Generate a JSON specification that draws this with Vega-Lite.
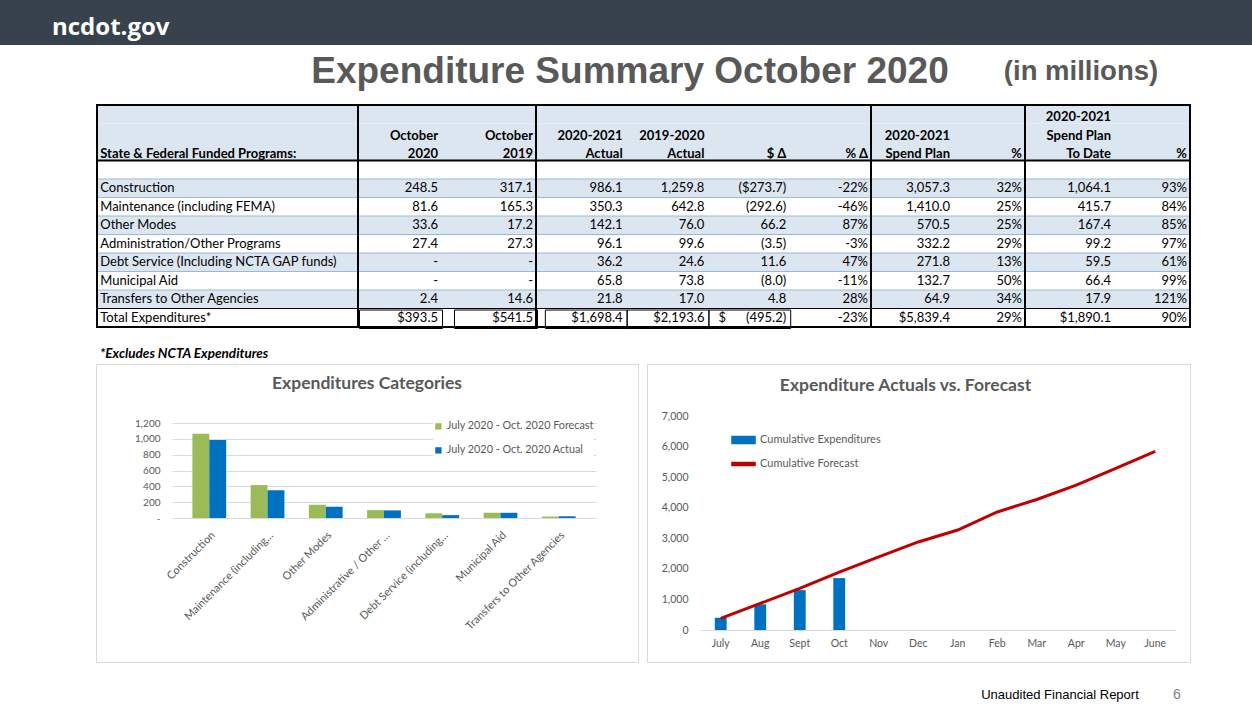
{
"$schema": "https://vega.github.io/schema/vega-lite/v6.json",
"padding": 0,
"background": "white",
"spacing": 0,
"resolve": {"scale": {"color": "independent"}, "legend": {"color": "independent"}},
"config": {"view": {"stroke": null}, "font": "Lato"},
"datasets": {
"table": [
{"row":"Construction","Oct2020":"248.5","Oct2019":"317.1","Act2021":"986.1","Act2020":"1,259.8","dDelta":"($273.7)","pDelta":"-22%","Plan":"3,057.3","PlanPct":"32%","ToDate":"1,064.1","ToDatePct":"93%"},
{"row":"Maintenance (including FEMA)","Oct2020":"81.6","Oct2019":"165.3","Act2021":"350.3","Act2020":"642.8","dDelta":"(292.6)","pDelta":"-46%","Plan":"1,410.0","PlanPct":"25%","ToDate":"415.7","ToDatePct":"84%"},
{"row":"Other Modes","Oct2020":"33.6","Oct2019":"17.2","Act2021":"142.1","Act2020":"76.0","dDelta":"66.2\u00a0\u00a0","pDelta":"87%","Plan":"570.5","PlanPct":"25%","ToDate":"167.4","ToDatePct":"85%"},
{"row":"Administration/Other Programs","Oct2020":"27.4","Oct2019":"27.3","Act2021":"96.1","Act2020":"99.6","dDelta":"(3.5)","pDelta":"-3%","Plan":"332.2","PlanPct":"29%","ToDate":"99.2","ToDatePct":"97%"},
{"row":"Debt Service (Including NCTA GAP funds)","Oct2020":"-\u00a0\u00a0\u00a0\u00a0","Oct2019":"-\u00a0\u00a0\u00a0\u00a0","Act2021":"36.2","Act2020":"24.6","dDelta":"11.6\u00a0\u00a0","pDelta":"47%","Plan":"271.8","PlanPct":"13%","ToDate":"59.5","ToDatePct":"61%"},
{"row":"Municipal Aid","Oct2020":"-\u00a0\u00a0\u00a0\u00a0","Oct2019":"-\u00a0\u00a0\u00a0\u00a0","Act2021":"65.8","Act2020":"73.8","dDelta":"(8.0)","pDelta":"-11%","Plan":"132.7","PlanPct":"50%","ToDate":"66.4","ToDatePct":"99%"},
{"row":"Transfers to Other Agencies","Oct2020":"2.4","Oct2019":"14.6","Act2021":"21.8","Act2020":"17.0","dDelta":"4.8\u00a0\u00a0","pDelta":"28%","Plan":"64.9","PlanPct":"34%","ToDate":"17.9","ToDatePct":"121%"},
{"row":"Total Expenditures*","Oct2020":"$393.5","Oct2019":"$541.5","Act2021":"$1,698.4","Act2020":"$2,193.6","dDelta":"$\u00a0\u00a0\u00a0\u00a0\u00a0\u00a0(495.2)","pDelta":"-23%","Plan":"$5,839.4","PlanPct":"29%","ToDate":"$1,890.1","ToDatePct":"90%"}
],
"headers": [
{"col":"row","row":"h3","text":"State & Federal Funded Programs:"},
{"col":"Oct2020","row":"h2","text":"October"},{"col":"Oct2020","row":"h3","text":"2020"},
{"col":"Oct2019","row":"h2","text":"October"},{"col":"Oct2019","row":"h3","text":"2019"},
{"col":"Act2021","row":"h2","text":"2020-2021"},{"col":"Act2021","row":"h3","text":"Actual"},
{"col":"Act2020","row":"h2","text":"2019-2020"},{"col":"Act2020","row":"h3","text":"Actual"},
{"col":"dDelta","row":"h3","text":"$ Δ"},
{"col":"pDelta","row":"h3","text":"% Δ"},
{"col":"Plan","row":"h2","text":"2020-2021"},{"col":"Plan","row":"h3","text":"Spend Plan"},
{"col":"PlanPct","row":"h3","text":"%"},
{"col":"ToDate","row":"h1","text":"2020-2021"},{"col":"ToDate","row":"h2","text":"Spend Plan"},{"col":"ToDate","row":"h3","text":"To Date"},
{"col":"ToDatePct","row":"h3","text":"%"}
],
"categories": [
{"cat":"Construction","series":"July 2020 - Oct. 2020 Forecast","value":1064.1},
{"cat":"Construction","series":"July 2020 - Oct. 2020 Actual","value":986.1},
{"cat":"Maintenance (including…","series":"July 2020 - Oct. 2020 Forecast","value":415.7},
{"cat":"Maintenance (including…","series":"July 2020 - Oct. 2020 Actual","value":350.3},
{"cat":"Other Modes","series":"July 2020 - Oct. 2020 Forecast","value":167.4},
{"cat":"Other Modes","series":"July 2020 - Oct. 2020 Actual","value":142.1},
{"cat":"Administrative / Other …","series":"July 2020 - Oct. 2020 Forecast","value":99.2},
{"cat":"Administrative / Other …","series":"July 2020 - Oct. 2020 Actual","value":96.1},
{"cat":"Debt Service (including…","series":"July 2020 - Oct. 2020 Forecast","value":59.5},
{"cat":"Debt Service (including…","series":"July 2020 - Oct. 2020 Actual","value":36.2},
{"cat":"Municipal Aid","series":"July 2020 - Oct. 2020 Forecast","value":66.4},
{"cat":"Municipal Aid","series":"July 2020 - Oct. 2020 Actual","value":65.8},
{"cat":"Transfers to Other Agencies","series":"July 2020 - Oct. 2020 Forecast","value":17.9},
{"cat":"Transfers to Other Agencies","series":"July 2020 - Oct. 2020 Actual","value":21.8}
],
"monthly": [
{"month":"July","expend":400,"forecast":380},
{"month":"Aug","expend":840,"forecast":870},
{"month":"Sept","expend":1304.9,"forecast":1360},
{"month":"Oct","expend":1698.4,"forecast":1890.1},
{"month":"Nov","expend":null,"forecast":2390},
{"month":"Dec","expend":null,"forecast":2880},
{"month":"Jan","expend":null,"forecast":3270},
{"month":"Feb","expend":null,"forecast":3860},
{"month":"Mar","expend":null,"forecast":4270},
{"month":"Apr","expend":null,"forecast":4740},
{"month":"May","expend":null,"forecast":5290},
{"month":"June","expend":null,"forecast":5839.4}
]
},
"vconcat": [
{
"width": 1252, "height": 45,
"layer": [
{"data": {"values": [{}]}, "mark": {"type": "rect", "color": "#37424d"}, "encoding": {}},
{"data": {"values": [{"site": "ncdot.gov"}]}, "mark": {"type": "text", "align": "left", "font": "Open Sans", "fontSize": 24, "fontWeight": "bold", "color": "#ffffff", "dy": 5}, "encoding": {"x": {"field": "site", "type": "nominal", "scale": {"type": "point", "domain": ["ncdot.gov"], "range": [52, 180], "padding": 0, "align": 0}, "axis": null}, "text": {"field": "site"}}}
]
},
{
"width": 1252, "height": 59,
"data": {"values": [{"part": "main", "label": "Expenditure Summary October 2020"}, {"part": "units", "label": "(in millions)"}]},
"layer": [
{"transform": [{"filter": "datum.part === 'main'"}], "mark": {"type": "text", "font": "Liberation Sans", "fontSize": 37, "fontWeight": "bold", "color": "#595959", "dy": -2.5}, "encoding": {"x": {"field": "part", "type": "nominal", "scale": {"type": "point", "domain": ["main", "units"], "range": [630, 1081], "padding": 0}, "axis": null}, "text": {"field": "label"}}},
{"transform": [{"filter": "datum.part === 'units'"}], "mark": {"type": "text", "font": "Liberation Sans", "fontSize": 27.5, "fontWeight": "bold", "color": "#595959", "dy": -2.5}, "encoding": {"x": {"field": "part", "type": "nominal", "scale": {"type": "point", "domain": ["main", "units"], "range": [630, 1081], "padding": 0}, "axis": null}, "text": {"field": "label"}}}
]
},
{
"spacing": 0,
"bounds": "flush",
"hconcat": [
{"width": 97, "height": 222, "data": {"values": [{}]}, "mark": {"type": "rect", "opacity": 0}, "encoding": {}},
{"width": 261, "height": 222, "layer": [
{"data": {"values": [{"row": "h1"}, {"row": "h2"}, {"row": "h3"}]}, "mark": {"type": "rect", "color": "#dce6f1"}, "encoding": {"y": {"field": "row", "type": "nominal", "scale": {"type": "band", "domain": ["h1","h2","h3","blank","Construction","Maintenance (including FEMA)","Other Modes","Administration/Other Programs","Debt Service (Including NCTA GAP funds)","Municipal Aid","Transfers to Other Agencies","Total Expenditures*"], "paddingInner": 0, "paddingOuter": 0}, "axis": null}}},
{"data": {"name": "table"}, "transform": [{"filter": {"field": "row", "oneOf": ["Construction","Other Modes","Debt Service (Including NCTA GAP funds)","Transfers to Other Agencies"]}}], "mark": {"type": "rect", "color": "#dce6f1"}, "encoding": {"y": {"field": "row", "type": "nominal", "scale": {"type": "band", "domain": ["h1","h2","h3","blank","Construction","Maintenance (including FEMA)","Other Modes","Administration/Other Programs","Debt Service (Including NCTA GAP funds)","Municipal Aid","Transfers to Other Agencies","Total Expenditures*"], "paddingInner": 0, "paddingOuter": 0}, "axis": null}}},
{"data": {"name": "table"}, "mark": {"type": "rule", "strokeWidth": 1}, "encoding": {"y": {"field": "row", "type": "nominal", "bandPosition": 0, "scale": {"type": "band", "domain": ["h1","h2","h3","blank","Construction","Maintenance (including FEMA)","Other Modes","Administration/Other Programs","Debt Service (Including NCTA GAP funds)","Municipal Aid","Transfers to Other Agencies","Total Expenditures*"], "paddingInner": 0, "paddingOuter": 0}, "axis": null}, "color": {"condition": {"test": "datum.row === 'Total Expenditures*'", "value": "#000000"}, "value": "#9bb7d9"}}},
{"data": {"values": [{"row": "blank"}]}, "mark": {"type": "rule", "strokeWidth": 2, "color": "#000000"}, "encoding": {"y": {"field": "row", "type": "nominal", "bandPosition": 0, "scale": {"type": "band", "domain": ["h1","h2","h3","blank","Construction","Maintenance (including FEMA)","Other Modes","Administration/Other Programs","Debt Service (Including NCTA GAP funds)","Municipal Aid","Transfers to Other Agencies","Total Expenditures*"], "paddingInner": 0, "paddingOuter": 0}, "axis": null}}},
{"data": {"name": "headers"}, "transform": [{"filter": {"field": "col", "oneOf": ["row"]}}], "mark": {"type": "text", "align": "left", "dx": 3, "dy": 3, "fontSize": 13, "fontWeight": "bold", "color": "#000000"}, "encoding": {"x": {"field": "col", "type": "nominal", "bandPosition": 0.001, "scale": {"type": "band", "domain": ["row"], "paddingInner": 0, "paddingOuter": 0}, "axis": null}, "y": {"field": "row", "type": "nominal", "scale": {"type": "band", "domain": ["h1","h2","h3","blank","Construction","Maintenance (including FEMA)","Other Modes","Administration/Other Programs","Debt Service (Including NCTA GAP funds)","Municipal Aid","Transfers to Other Agencies","Total Expenditures*"], "paddingInner": 0, "paddingOuter": 0}, "axis": null}, "text": {"field": "text"}}},
{"data": {"name": "table"}, "transform": [{"fold": ["row"], "as": ["col", "text"]}], "mark": {"type": "text", "align": "left", "dx": 3, "fontSize": 13, "color": "#000000"}, "encoding": {"x": {"field": "col", "type": "nominal", "bandPosition": 0.001, "scale": {"type": "band", "domain": ["row"], "paddingInner": 0, "paddingOuter": 0}, "axis": null}, "y": {"field": "row", "type": "nominal", "scale": {"type": "band", "domain": ["h1","h2","h3","blank","Construction","Maintenance (including FEMA)","Other Modes","Administration/Other Programs","Debt Service (Including NCTA GAP funds)","Municipal Aid","Transfers to Other Agencies","Total Expenditures*"], "paddingInner": 0, "paddingOuter": 0}, "axis": null}, "text": {"field": "text"}}},
{"data": {"values": [{}]}, "mark": {"type": "rect", "fill": "transparent", "stroke": "#000000", "strokeWidth": 2}, "encoding": {}}
]},
{"width": 178, "height": 222, "layer": [
{"data": {"values": [{"row": "h1"}, {"row": "h2"}, {"row": "h3"}]}, "mark": {"type": "rect", "color": "#dce6f1"}, "encoding": {"y": {"field": "row", "type": "nominal", "scale": {"type": "band", "domain": ["h1","h2","h3","blank","Construction","Maintenance (including FEMA)","Other Modes","Administration/Other Programs","Debt Service (Including NCTA GAP funds)","Municipal Aid","Transfers to Other Agencies","Total Expenditures*"], "paddingInner": 0, "paddingOuter": 0}, "axis": null}}},
{"data": {"name": "table"}, "transform": [{"filter": {"field": "row", "oneOf": ["Construction","Other Modes","Debt Service (Including NCTA GAP funds)","Transfers to Other Agencies"]}}], "mark": {"type": "rect", "color": "#dce6f1"}, "encoding": {"y": {"field": "row", "type": "nominal", "scale": {"type": "band", "domain": ["h1","h2","h3","blank","Construction","Maintenance (including FEMA)","Other Modes","Administration/Other Programs","Debt Service (Including NCTA GAP funds)","Municipal Aid","Transfers to Other Agencies","Total Expenditures*"], "paddingInner": 0, "paddingOuter": 0}, "axis": null}}},
{"data": {"name": "table"}, "mark": {"type": "rule", "strokeWidth": 1}, "encoding": {"y": {"field": "row", "type": "nominal", "bandPosition": 0, "scale": {"type": "band", "domain": ["h1","h2","h3","blank","Construction","Maintenance (including FEMA)","Other Modes","Administration/Other Programs","Debt Service (Including NCTA GAP funds)","Municipal Aid","Transfers to Other Agencies","Total Expenditures*"], "paddingInner": 0, "paddingOuter": 0}, "axis": null}, "color": {"condition": {"test": "datum.row === 'Total Expenditures*'", "value": "#000000"}, "value": "#9bb7d9"}}},
{"data": {"values": [{"row": "blank"}]}, "mark": {"type": "rule", "strokeWidth": 2, "color": "#000000"}, "encoding": {"y": {"field": "row", "type": "nominal", "bandPosition": 0, "scale": {"type": "band", "domain": ["h1","h2","h3","blank","Construction","Maintenance (including FEMA)","Other Modes","Administration/Other Programs","Debt Service (Including NCTA GAP funds)","Municipal Aid","Transfers to Other Agencies","Total Expenditures*"], "paddingInner": 0, "paddingOuter": 0}, "axis": null}}},
{"data": {"name": "table"}, "transform": [{"filter": "datum.row === 'Total Expenditures*'"}, {"fold": ["Oct2020", "Oct2019"], "as": ["col", "text"]}], "mark": {"type": "rect", "fill": "transparent", "stroke": "#000000", "strokeWidth": 1, "xOffset": 1.5, "x2Offset": -1.5, "yOffset": 1.5, "y2Offset": -1.5}, "encoding": {"x": {"field": "col", "type": "nominal", "scale": {"type": "band", "domain": ["Oct2020", "Oct2019"], "paddingInner": 0.126, "paddingOuter": 0}, "axis": null}, "y": {"field": "row", "type": "nominal", "scale": {"type": "band", "domain": ["h1","h2","h3","blank","Construction","Maintenance (including FEMA)","Other Modes","Administration/Other Programs","Debt Service (Including NCTA GAP funds)","Municipal Aid","Transfers to Other Agencies","Total Expenditures*"], "paddingInner": 0, "paddingOuter": 0}, "axis": null}}},
{"data": {"name": "headers"}, "transform": [{"filter": {"field": "col", "oneOf": ["Oct2020", "Oct2019"]}}], "mark": {"type": "text", "align": "right", "dx": -3, "dy": 3, "fontSize": 13, "fontWeight": "bold", "color": "#000000"}, "encoding": {"x": {"field": "col", "type": "nominal", "bandPosition": 1, "scale": {"type": "band", "domain": ["Oct2020", "Oct2019"], "paddingInner": 0.126, "paddingOuter": 0}, "axis": null}, "y": {"field": "row", "type": "nominal", "scale": {"type": "band", "domain": ["h1","h2","h3","blank","Construction","Maintenance (including FEMA)","Other Modes","Administration/Other Programs","Debt Service (Including NCTA GAP funds)","Municipal Aid","Transfers to Other Agencies","Total Expenditures*"], "paddingInner": 0, "paddingOuter": 0}, "axis": null}, "text": {"field": "text"}}},
{"data": {"name": "table"}, "transform": [{"fold": ["Oct2020", "Oct2019"], "as": ["col", "text"]}], "mark": {"type": "text", "align": "right", "dx": -3, "fontSize": 13, "color": "#000000"}, "encoding": {"x": {"field": "col", "type": "nominal", "bandPosition": 1, "scale": {"type": "band", "domain": ["Oct2020", "Oct2019"], "paddingInner": 0.126, "paddingOuter": 0}, "axis": null}, "y": {"field": "row", "type": "nominal", "scale": {"type": "band", "domain": ["h1","h2","h3","blank","Construction","Maintenance (including FEMA)","Other Modes","Administration/Other Programs","Debt Service (Including NCTA GAP funds)","Municipal Aid","Transfers to Other Agencies","Total Expenditures*"], "paddingInner": 0, "paddingOuter": 0}, "axis": null}, "text": {"field": "text"}}},
{"data": {"values": [{}]}, "mark": {"type": "rect", "fill": "transparent", "stroke": "#000000", "strokeWidth": 2}, "encoding": {}}
]},
{"width": 335, "height": 222, "layer": [
{"data": {"values": [{"row": "h1"}, {"row": "h2"}, {"row": "h3"}]}, "mark": {"type": "rect", "color": "#dce6f1"}, "encoding": {"y": {"field": "row", "type": "nominal", "scale": {"type": "band", "domain": ["h1","h2","h3","blank","Construction","Maintenance (including FEMA)","Other Modes","Administration/Other Programs","Debt Service (Including NCTA GAP funds)","Municipal Aid","Transfers to Other Agencies","Total Expenditures*"], "paddingInner": 0, "paddingOuter": 0}, "axis": null}}},
{"data": {"name": "table"}, "transform": [{"filter": {"field": "row", "oneOf": ["Construction","Other Modes","Debt Service (Including NCTA GAP funds)","Transfers to Other Agencies"]}}], "mark": {"type": "rect", "color": "#dce6f1"}, "encoding": {"y": {"field": "row", "type": "nominal", "scale": {"type": "band", "domain": ["h1","h2","h3","blank","Construction","Maintenance (including FEMA)","Other Modes","Administration/Other Programs","Debt Service (Including NCTA GAP funds)","Municipal Aid","Transfers to Other Agencies","Total Expenditures*"], "paddingInner": 0, "paddingOuter": 0}, "axis": null}}},
{"data": {"name": "table"}, "mark": {"type": "rule", "strokeWidth": 1}, "encoding": {"y": {"field": "row", "type": "nominal", "bandPosition": 0, "scale": {"type": "band", "domain": ["h1","h2","h3","blank","Construction","Maintenance (including FEMA)","Other Modes","Administration/Other Programs","Debt Service (Including NCTA GAP funds)","Municipal Aid","Transfers to Other Agencies","Total Expenditures*"], "paddingInner": 0, "paddingOuter": 0}, "axis": null}, "color": {"condition": {"test": "datum.row === 'Total Expenditures*'", "value": "#000000"}, "value": "#9bb7d9"}}},
{"data": {"values": [{"row": "blank"}]}, "mark": {"type": "rule", "strokeWidth": 2, "color": "#000000"}, "encoding": {"y": {"field": "row", "type": "nominal", "bandPosition": 0, "scale": {"type": "band", "domain": ["h1","h2","h3","blank","Construction","Maintenance (including FEMA)","Other Modes","Administration/Other Programs","Debt Service (Including NCTA GAP funds)","Municipal Aid","Transfers to Other Agencies","Total Expenditures*"], "paddingInner": 0, "paddingOuter": 0}, "axis": null}}},
{"data": {"name": "table"}, "transform": [{"filter": "datum.row === 'Total Expenditures*'"}, {"fold": ["Act2021", "Act2020", "dDelta"], "as": ["col", "text"]}], "mark": {"type": "rect", "fill": "transparent", "stroke": "#000000", "strokeWidth": 1, "xOffset": 1.5, "x2Offset": -1.5, "yOffset": 1.5, "y2Offset": -1.5}, "encoding": {"x": {"field": "col", "type": "nominal", "scale": {"type": "band", "domain": ["Act2021", "Act2020", "dDelta", "pDelta"], "paddingInner": 0, "paddingOuter": 0.048, "align": 1}, "axis": null}, "y": {"field": "row", "type": "nominal", "scale": {"type": "band", "domain": ["h1","h2","h3","blank","Construction","Maintenance (including FEMA)","Other Modes","Administration/Other Programs","Debt Service (Including NCTA GAP funds)","Municipal Aid","Transfers to Other Agencies","Total Expenditures*"], "paddingInner": 0, "paddingOuter": 0}, "axis": null}}},
{"data": {"name": "headers"}, "transform": [{"filter": {"field": "col", "oneOf": ["Act2021", "Act2020", "dDelta", "pDelta"]}}], "mark": {"type": "text", "align": "right", "dx": -3, "dy": 3, "fontSize": 13, "fontWeight": "bold", "color": "#000000"}, "encoding": {"x": {"field": "col", "type": "nominal", "bandPosition": 1, "scale": {"type": "band", "domain": ["Act2021", "Act2020", "dDelta", "pDelta"], "paddingInner": 0, "paddingOuter": 0.048, "align": 1}, "axis": null}, "y": {"field": "row", "type": "nominal", "scale": {"type": "band", "domain": ["h1","h2","h3","blank","Construction","Maintenance (including FEMA)","Other Modes","Administration/Other Programs","Debt Service (Including NCTA GAP funds)","Municipal Aid","Transfers to Other Agencies","Total Expenditures*"], "paddingInner": 0, "paddingOuter": 0}, "axis": null}, "text": {"field": "text"}}},
{"data": {"name": "table"}, "transform": [{"fold": ["Act2021", "Act2020", "dDelta", "pDelta"], "as": ["col", "text"]}], "mark": {"type": "text", "align": "right", "dx": -3, "fontSize": 13, "color": "#000000"}, "encoding": {"x": {"field": "col", "type": "nominal", "bandPosition": 1, "scale": {"type": "band", "domain": ["Act2021", "Act2020", "dDelta", "pDelta"], "paddingInner": 0, "paddingOuter": 0.048, "align": 1}, "axis": null}, "y": {"field": "row", "type": "nominal", "scale": {"type": "band", "domain": ["h1","h2","h3","blank","Construction","Maintenance (including FEMA)","Other Modes","Administration/Other Programs","Debt Service (Including NCTA GAP funds)","Municipal Aid","Transfers to Other Agencies","Total Expenditures*"], "paddingInner": 0, "paddingOuter": 0}, "axis": null}, "text": {"field": "text"}}},
{"data": {"values": [{}]}, "mark": {"type": "rect", "fill": "transparent", "stroke": "#000000", "strokeWidth": 2}, "encoding": {}}
]},
{"width": 154, "height": 222, "layer": [
{"data": {"values": [{"row": "h1"}, {"row": "h2"}, {"row": "h3"}]}, "mark": {"type": "rect", "color": "#dce6f1"}, "encoding": {"y": {"field": "row", "type": "nominal", "scale": {"type": "band", "domain": ["h1","h2","h3","blank","Construction","Maintenance (including FEMA)","Other Modes","Administration/Other Programs","Debt Service (Including NCTA GAP funds)","Municipal Aid","Transfers to Other Agencies","Total Expenditures*"], "paddingInner": 0, "paddingOuter": 0}, "axis": null}}},
{"data": {"name": "table"}, "transform": [{"filter": {"field": "row", "oneOf": ["Construction","Other Modes","Debt Service (Including NCTA GAP funds)","Transfers to Other Agencies"]}}], "mark": {"type": "rect", "color": "#dce6f1"}, "encoding": {"y": {"field": "row", "type": "nominal", "scale": {"type": "band", "domain": ["h1","h2","h3","blank","Construction","Maintenance (including FEMA)","Other Modes","Administration/Other Programs","Debt Service (Including NCTA GAP funds)","Municipal Aid","Transfers to Other Agencies","Total Expenditures*"], "paddingInner": 0, "paddingOuter": 0}, "axis": null}}},
{"data": {"name": "table"}, "mark": {"type": "rule", "strokeWidth": 1}, "encoding": {"y": {"field": "row", "type": "nominal", "bandPosition": 0, "scale": {"type": "band", "domain": ["h1","h2","h3","blank","Construction","Maintenance (including FEMA)","Other Modes","Administration/Other Programs","Debt Service (Including NCTA GAP funds)","Municipal Aid","Transfers to Other Agencies","Total Expenditures*"], "paddingInner": 0, "paddingOuter": 0}, "axis": null}, "color": {"condition": {"test": "datum.row === 'Total Expenditures*'", "value": "#000000"}, "value": "#9bb7d9"}}},
{"data": {"values": [{"row": "blank"}]}, "mark": {"type": "rule", "strokeWidth": 2, "color": "#000000"}, "encoding": {"y": {"field": "row", "type": "nominal", "bandPosition": 0, "scale": {"type": "band", "domain": ["h1","h2","h3","blank","Construction","Maintenance (including FEMA)","Other Modes","Administration/Other Programs","Debt Service (Including NCTA GAP funds)","Municipal Aid","Transfers to Other Agencies","Total Expenditures*"], "paddingInner": 0, "paddingOuter": 0}, "axis": null}}},
{"data": {"name": "headers"}, "transform": [{"filter": {"field": "col", "oneOf": ["Plan", "PlanPct"]}}], "mark": {"type": "text", "align": "right", "dx": -3, "dy": 3, "fontSize": 13, "fontWeight": "bold", "color": "#000000"}, "encoding": {"x": {"field": "col", "type": "nominal", "bandPosition": 1, "scale": {"type": "band", "domain": ["Plan", "PlanPct"], "paddingInner": 0, "paddingOuter": 0.069, "align": 1}, "axis": null}, "y": {"field": "row", "type": "nominal", "scale": {"type": "band", "domain": ["h1","h2","h3","blank","Construction","Maintenance (including FEMA)","Other Modes","Administration/Other Programs","Debt Service (Including NCTA GAP funds)","Municipal Aid","Transfers to Other Agencies","Total Expenditures*"], "paddingInner": 0, "paddingOuter": 0}, "axis": null}, "text": {"field": "text"}}},
{"data": {"name": "table"}, "transform": [{"fold": ["Plan", "PlanPct"], "as": ["col", "text"]}], "mark": {"type": "text", "align": "right", "dx": -3, "fontSize": 13, "color": "#000000"}, "encoding": {"x": {"field": "col", "type": "nominal", "bandPosition": 1, "scale": {"type": "band", "domain": ["Plan", "PlanPct"], "paddingInner": 0, "paddingOuter": 0.069, "align": 1}, "axis": null}, "y": {"field": "row", "type": "nominal", "scale": {"type": "band", "domain": ["h1","h2","h3","blank","Construction","Maintenance (including FEMA)","Other Modes","Administration/Other Programs","Debt Service (Including NCTA GAP funds)","Municipal Aid","Transfers to Other Agencies","Total Expenditures*"], "paddingInner": 0, "paddingOuter": 0}, "axis": null}, "text": {"field": "text"}}},
{"data": {"values": [{}]}, "mark": {"type": "rect", "fill": "transparent", "stroke": "#000000", "strokeWidth": 2}, "encoding": {}}
]},
{"width": 165, "height": 222, "layer": [
{"data": {"values": [{"row": "h1"}, {"row": "h2"}, {"row": "h3"}]}, "mark": {"type": "rect", "color": "#dce6f1"}, "encoding": {"y": {"field": "row", "type": "nominal", "scale": {"type": "band", "domain": ["h1","h2","h3","blank","Construction","Maintenance (including FEMA)","Other Modes","Administration/Other Programs","Debt Service (Including NCTA GAP funds)","Municipal Aid","Transfers to Other Agencies","Total Expenditures*"], "paddingInner": 0, "paddingOuter": 0}, "axis": null}}},
{"data": {"name": "table"}, "transform": [{"filter": {"field": "row", "oneOf": ["Construction","Other Modes","Debt Service (Including NCTA GAP funds)","Transfers to Other Agencies"]}}], "mark": {"type": "rect", "color": "#dce6f1"}, "encoding": {"y": {"field": "row", "type": "nominal", "scale": {"type": "band", "domain": ["h1","h2","h3","blank","Construction","Maintenance (including FEMA)","Other Modes","Administration/Other Programs","Debt Service (Including NCTA GAP funds)","Municipal Aid","Transfers to Other Agencies","Total Expenditures*"], "paddingInner": 0, "paddingOuter": 0}, "axis": null}}},
{"data": {"name": "table"}, "mark": {"type": "rule", "strokeWidth": 1}, "encoding": {"y": {"field": "row", "type": "nominal", "bandPosition": 0, "scale": {"type": "band", "domain": ["h1","h2","h3","blank","Construction","Maintenance (including FEMA)","Other Modes","Administration/Other Programs","Debt Service (Including NCTA GAP funds)","Municipal Aid","Transfers to Other Agencies","Total Expenditures*"], "paddingInner": 0, "paddingOuter": 0}, "axis": null}, "color": {"condition": {"test": "datum.row === 'Total Expenditures*'", "value": "#000000"}, "value": "#9bb7d9"}}},
{"data": {"values": [{"row": "blank"}]}, "mark": {"type": "rule", "strokeWidth": 2, "color": "#000000"}, "encoding": {"y": {"field": "row", "type": "nominal", "bandPosition": 0, "scale": {"type": "band", "domain": ["h1","h2","h3","blank","Construction","Maintenance (including FEMA)","Other Modes","Administration/Other Programs","Debt Service (Including NCTA GAP funds)","Municipal Aid","Transfers to Other Agencies","Total Expenditures*"], "paddingInner": 0, "paddingOuter": 0}, "axis": null}}},
{"data": {"name": "headers"}, "transform": [{"filter": {"field": "col", "oneOf": ["ToDate", "ToDatePct"]}}], "mark": {"type": "text", "align": "right", "dx": -3, "dy": 3, "fontSize": 13, "fontWeight": "bold", "color": "#000000"}, "encoding": {"x": {"field": "col", "type": "nominal", "bandPosition": 1, "scale": {"type": "band", "domain": ["ToDate", "ToDatePct"], "paddingInner": 0, "paddingOuter": 0.0855, "align": 1}, "axis": null}, "y": {"field": "row", "type": "nominal", "scale": {"type": "band", "domain": ["h1","h2","h3","blank","Construction","Maintenance (including FEMA)","Other Modes","Administration/Other Programs","Debt Service (Including NCTA GAP funds)","Municipal Aid","Transfers to Other Agencies","Total Expenditures*"], "paddingInner": 0, "paddingOuter": 0}, "axis": null}, "text": {"field": "text"}}},
{"data": {"name": "table"}, "transform": [{"fold": ["ToDate", "ToDatePct"], "as": ["col", "text"]}], "mark": {"type": "text", "align": "right", "dx": -3, "fontSize": 13, "color": "#000000"}, "encoding": {"x": {"field": "col", "type": "nominal", "bandPosition": 1, "scale": {"type": "band", "domain": ["ToDate", "ToDatePct"], "paddingInner": 0, "paddingOuter": 0.0855, "align": 1}, "axis": null}, "y": {"field": "row", "type": "nominal", "scale": {"type": "band", "domain": ["h1","h2","h3","blank","Construction","Maintenance (including FEMA)","Other Modes","Administration/Other Programs","Debt Service (Including NCTA GAP funds)","Municipal Aid","Transfers to Other Agencies","Total Expenditures*"], "paddingInner": 0, "paddingOuter": 0}, "axis": null}, "text": {"field": "text"}}},
{"data": {"values": [{}]}, "mark": {"type": "rect", "fill": "transparent", "stroke": "#000000", "strokeWidth": 2}, "encoding": {}}
]}
]
},
{
"width": 1252, "height": 34,
"data": {"values": [{"note": "*Excludes NCTA Expenditures"}]},
"mark": {"type": "text", "align": "left", "fontSize": 13.5, "fontStyle": "italic", "fontWeight": "bold", "color": "#000000", "dy": 8},
"encoding": {"x": {"field": "note", "type": "nominal", "scale": {"type": "point", "domain": ["*Excludes NCTA Expenditures"], "range": [100, 300], "padding": 0, "align": 0}, "axis": null}, "text": {"field": "note"}}
},
{
"spacing": 9,
"bounds": "flush",
"resolve": {"scale": {"color": "independent"}, "legend": {"color": "independent"}},
"hconcat": [
{"width": 87, "height": 298, "data": {"values": [{}]}, "mark": {"type": "rect", "opacity": 0}, "encoding": {}},
{
"width": 542, "height": 298,
"view": {"stroke": "#d9d9d9"},
"title": {"text": "Expenditures Categories", "fontSize": 17.5, "fontWeight": "bold", "color": "#595959", "offset": -37.5, "baseline": "middle", "anchor": "middle"},
"data": {"name": "categories"},
"mark": {"type": "bar"},
"encoding": {
"x": {"field": "cat", "type": "nominal", "sort": null, "scale": {"range": [76, 500], "paddingInner": 0.42, "paddingOuter": 0.35}, "axis": {"title": null, "labelAngle": -45, "offset": -136, "domain": false, "ticks": false, "labelPadding": 3, "labelColor": "#595959", "labelFontSize": 11, "labelLimit": 200}},
"xOffset": {"field": "series", "type": "nominal", "sort": null, "scale": {"domain": ["July 2020 - Oct. 2020 Forecast", "July 2020 - Oct. 2020 Actual"]}},
"y": {"field": "value", "type": "quantitative", "scale": {"domain": [0, 1200], "nice": false, "range": [154, 59]}, "axis": {"title": null, "values": [0, 200, 400, 600, 800, 1000, 1200], "grid": true, "gridColor": "#d9d9d9", "domain": false, "ticks": false, "offset": -64, "labelPadding": 0, "labelColor": "#595959", "labelFontSize": 10, "labelExpr": "datum.value === 0 ? '-' : format(datum.value, ',')"}},
"color": {"field": "series", "type": "nominal", "scale": {"domain": ["July 2020 - Oct. 2020 Forecast", "July 2020 - Oct. 2020 Actual"], "range": ["#9bbb59", "#0070c0"]}, "legend": {"orient": "none", "legendX": 337, "legendY": 57, "title": null, "labelColor": "#595959", "labelFontSize": 10.8, "symbolType": "square", "symbolSize": 40, "rowPadding": 12, "fillColor": "white", "padding": 0, "labelOffset": 3}}
}
},
{
"width": 543, "height": 298,
"view": {"stroke": "#d9d9d9"},
"title": {"text": "Expenditure Actuals vs. Forecast", "fontSize": 17.5, "fontWeight": "bold", "color": "#595959", "offset": -39.5, "baseline": "middle", "anchor": "middle", "dx": -13},
"data": {"name": "monthly"},
"layer": [
{"transform": [{"filter": "isValid(datum.expend)"}], "mark": {"type": "bar"},
"encoding": {
"x": {"field": "month", "type": "nominal", "sort": null, "scale": {"domain": ["July","Aug","Sept","Oct","Nov","Dec","Jan","Feb","Mar","Apr","May","June"], "range": [53, 529], "paddingInner": 0.7, "paddingOuter": 0.375}, "axis": {"title": null, "labelAngle": 0, "offset": -32, "domainColor": "#d9d9d9", "ticks": false, "labelPadding": 8, "labelColor": "#595959", "labelFontSize": 10.5}},
"y": {"field": "expend", "type": "quantitative", "scale": {"domain": [0, 7000], "nice": false, "range": [266, 52]}, "axis": {"title": null, "values": [0, 1000, 2000, 3000, 4000, 5000, 6000, 7000], "labelExpr": "format(datum.value, ',')", "grid": false, "domain": false, "ticks": false, "offset": -44, "labelPadding": 3, "labelColor": "#595959", "labelFontSize": 10.5}},
"color": {"datum": "Cumulative Expenditures", "type": "nominal", "scale": {"domain": ["Cumulative Expenditures", "Cumulative Forecast"], "range": ["#0070c0", "#c00000"]}, "legend": {"orient": "none", "legendX": 84, "legendY": 63.5, "title": null, "labelColor": "#595959", "labelFontSize": 11, "symbolType": "M-1,-0.3H1V0.3H-1Z", "symbolSize": 529, "rowPadding": 5, "labelOffset": 4, "padding": 0, "encode": {"symbols": {"update": {"shape": {"signal": "datum.value === 'Cumulative Forecast' ? 'M-1,-0.13H1V0.13H-1Z' : 'M-1,-0.3H1V0.3H-1Z'"}, "fill": {"signal": "datum.value === 'Cumulative Forecast' ? '#c00000' : '#0070c0'"}, "stroke": {"value": "transparent"}, "opacity": {"value": 1}}}}}}
}},
{"mark": {"type": "line", "strokeWidth": 3},
"encoding": {
"x": {"field": "month", "type": "nominal", "sort": null},
"y": {"field": "forecast", "type": "quantitative", "axis": {"title": null, "values": [0, 1000, 2000, 3000, 4000, 5000, 6000, 7000], "labelExpr": "format(datum.value, ',')", "grid": false, "domain": false, "ticks": false, "offset": -44, "labelPadding": 3, "labelColor": "#595959", "labelFontSize": 10.5}},
"color": {"datum": "Cumulative Forecast", "type": "nominal"}
}}
]
}
]
},
{
"width": 1252, "height": 57,
"data": {"values": [{"part": "report", "label": "Unaudited Financial Report"}, {"part": "page", "label": "6"}]},
"layer": [
{"transform": [{"filter": "datum.part === 'report'"}], "mark": {"type": "text", "font": "Liberation Sans", "fontSize": 13, "color": "#000000", "dy": 3.5}, "encoding": {"x": {"field": "part", "type": "nominal", "scale": {"type": "point", "domain": ["report", "page"], "range": [1060, 1177], "padding": 0}, "axis": null}, "text": {"field": "label"}}},
{"transform": [{"filter": "datum.part === 'page'"}], "mark": {"type": "text", "font": "Liberation Sans", "fontSize": 14, "color": "#7f7f7f", "dy": 3.5}, "encoding": {"x": {"field": "part", "type": "nominal", "scale": {"type": "point", "domain": ["report", "page"], "range": [1060, 1177], "padding": 0}, "axis": null}, "text": {"field": "label"}}}
]
}
]
}
